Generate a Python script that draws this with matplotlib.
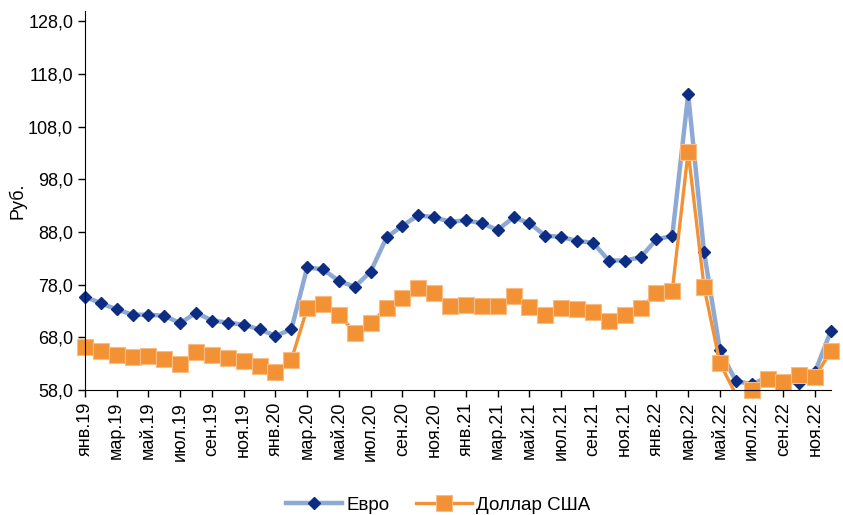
import matplotlib.pyplot as plt
from matplotlib.lines import Line2D
import numpy as np

plt.rcParams['font.family'] = ['Liberation Sans', 'DejaVu Sans']

# monthly averages, Jan 2019 .. Dec 2022
months = ['янв', 'фев', 'мар', 'апр', 'май', 'июн',
          'июл', 'авг', 'сен', 'окт', 'ноя', 'дек']
years = ['19', '20', '21', '22']
labels = [m + '.' + y for y in years for m in months]

euro = [75.7, 74.5, 73.3, 72.3, 72.3, 72.1, 70.7, 72.7, 71.2, 70.8, 70.4, 69.5,
        68.3, 69.5, 81.3, 80.9, 78.7, 77.6, 80.5, 87.0, 89.2, 91.2, 90.8, 90.0,
        90.2, 89.7, 88.4, 90.8, 89.7, 87.3, 87.1, 86.3, 86.0, 82.6, 82.6, 83.2,
        86.6, 87.3, 114.2, 84.2, 65.6, 59.7, 59.1, 60.4, 59.8, 59.3, 61.5, 69.3]
usd = [66.1, 65.5, 64.7, 64.2, 64.5, 63.8, 62.9, 65.3, 64.7, 64.0, 63.5, 62.6,
       61.5, 63.7, 73.5, 74.3, 72.3, 68.9, 70.8, 73.5, 75.4, 77.3, 76.5, 74.0,
       74.2, 74.0, 74.0, 75.9, 73.7, 72.3, 73.6, 73.3, 72.9, 71.2, 72.3, 73.5,
       76.4, 76.9, 103.3, 77.6, 63.1, 57.2, 58.0, 60.0, 59.6, 60.9, 60.5, 65.5]

x = np.arange(len(labels))
ymin, ymax = 58, 130

fig = plt.figure(figsize=(8.43, 5.15), dpi=100)
ax = fig.add_axes([0.1008, 0.2427, 0.885, 0.736])

eu_line = dict(color='#8EA9D4', lw=3.2)
eu_mark = dict(marker='D', markersize=6, markerfacecolor='#0D2C84', markeredgecolor='#0D2C84')
us_line = dict(color='#F39234', lw=2.4)
us_mark = dict(marker='s', markersize=12, markerfacecolor='#F39234',
               markeredgecolor='#F8BC84', markeredgewidth=0.8)

# lines are clipped by the plot area, markers are not (only hidden if below the axis)
ax.plot(x, euro, **eu_line)
e = np.array(euro)
ax.plot(x[e >= ymin], e[e >= ymin], ls='none', clip_on=False, **eu_mark)
ax.plot(x, usd, **us_line)
u = np.array(usd)
ax.plot(x[u >= ymin], u[u >= ymin], ls='none', clip_on=False, **us_mark)

ax.set_xlim(0, len(labels) - 1)
ax.set_ylim(ymin, ymax)
yt = np.arange(58, 129, 10)
ax.set_yticks(yt)
ax.set_yticklabels([f'{v:.1f}'.replace('.', ',') for v in yt], fontsize=13)
ax.set_xticks(x[::2])
ax.set_xticklabels(labels[::2], rotation=90, fontsize=13)
ax.tick_params(direction='out', length=5, width=1, colors='black')
ax.spines['top'].set_visible(False)
ax.spines['right'].set_visible(False)
ax.set_ylabel('Руб.', fontsize=13)
ax.yaxis.set_label_coords(-0.078, 0.5)

handles = [Line2D([], [], **eu_line, **eu_mark), Line2D([], [], **us_line, **us_mark)]
fig.legend(handles, ['Евро', 'Доллар США'], loc='center',
           bbox_to_anchor=(438 / 843, 1 - 505 / 515), ncol=2, frameon=False,
           fontsize=13.5, handlelength=3, handletextpad=0.2, columnspacing=1.4)

fig.savefig('out.png', dpi=100)
